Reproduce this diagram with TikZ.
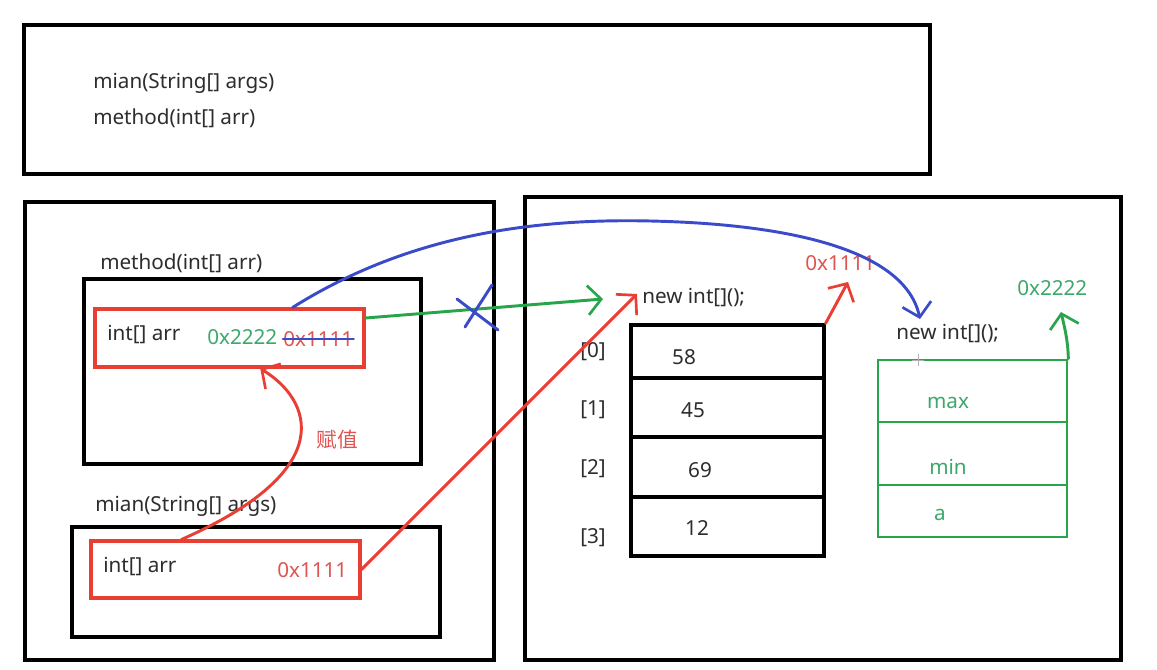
\documentclass[tikz,border=0pt]{standalone}
\usepackage{fontspec}
\setmainfont{Noto Sans}
\newfontfamily\cjk{Noto Sans CJK SC}
\usetikzlibrary{arrows.meta,fit,calc}
\definecolor{lred}{RGB}{232,62,52}
\definecolor{tred}{RGB}{224,84,80}
\definecolor{lgreen}{RGB}{40,165,75}
\definecolor{tgreen}{RGB}{60,168,106}
\definecolor{lblue}{RGB}{58,74,200}
\definecolor{tgray}{RGB}{45,45,45}
\tikzset{
  box/.style={draw=black, line width=2.3pt, inner sep=0pt},
  redbox/.style={draw=lred, line width=2.3pt, inner sep=0pt},
  grnbox/.style={draw=lgreen, line width=2pt, inner sep=0pt},
  txt/.style={font=\fontsize{15.5pt}{18pt}\selectfont, text=tgray, inner sep=0pt},
  rtxt/.style={txt, text=tred},
  gtxt/.style={txt, text=tgreen},
  barb/.style={-{Straight Barb[length=10pt,width=22pt,line width=2pt]}},
  redline/.style={draw=lred, line width=2.2pt, line cap=round},
  grnline/.style={draw=lgreen, line width=2.2pt, line cap=round},
  bluline/.style={draw=lblue, line width=2.2pt, line cap=round},
}
\begin{document}
\begin{tikzpicture}[x=0.75pt,y=-0.75pt]
\useasboundingbox (0,0) rectangle (1157,670);
\fill[white] (0,0) rectangle (1157,670);

% top frame
\node[box, fit={(24,25)(930,174)}] (top) {};
\node[txt, anchor=west] (t1) at (93,83) {mian(String[] args)};
\node[txt, anchor=west] (t2) at (93,118) {method(int[] arr)};

% stack and heap
\node[box, fit={(25,202)(494,660)}] (stack) {};
\node[box, fit={(525,197)(1121,660)}] (heap) {};

% method frame
\node[txt, anchor=west] (mlabel) at (100,263) {method(int[] arr)};
\node[box, fit={(84,279)(421,464)}] (mframe) {};
\node[redbox, fit={(95,309)(364,367)}] (marr) {};
\node[txt, anchor=west] (mtxt) at (107,335) {int[] arr};
\node[gtxt, anchor=west] (m2222) at (207,337) {0x2222};
\node[rtxt, anchor=west] (m1111) at (283,339) {0x1111};
\draw[bluline] (m1111.west) -- (m1111.east);
\node[rtxt] (fz) at (337,440) {\cjk 赋值};

% main frame
\node[txt, anchor=west] (mainlabel) at (95,506) {mian(String[] args)};
\node[box, fit={(72,527)(440,637)}] (mainframe) {};
\node[redbox, fit={(91,541)(360,598)}] (mainarr) {};
\node[txt, anchor=west] (maintxt) at (103,567) {int[] arr};
\node[rtxt, anchor=west] (main1111) at (277,570) {0x1111};

% array
\node[txt, anchor=west] (new1) at (642,298) {new int[]();};
\node[box, fit={(631,325)(824,378)}] (a0) {};
\node[box, fit={(631,378)(824,437)}] (a1) {};
\node[box, fit={(631,437)(824,497)}] (a2) {};
\node[box, fit={(631,497)(824,556)}] (a3) {};
\node[txt] (v0) at (684,357) {58};
\node[txt] (v1) at (693,410) {45};
\node[txt] (v2) at (700,470) {69};
\node[txt] (v3) at (697,528) {12};
\node[txt] (i0) at (593,352) {[0]};
\node[txt] (i1) at (593,410) {[1]};
\node[txt] (i2) at (593,469) {[2]};
\node[txt] (i3) at (593,538) {[3]};
\node[rtxt, anchor=west] (addr1) at (805,263) {0x1111};

% object
\node[txt, anchor=west] (new2) at (896,334) {new int[]();};
\node[grnbox, fit={(878,360)(1067,422)}] (o0) {};
\node[grnbox, fit={(878,422)(1067,485)}] (o1) {};
\node[grnbox, fit={(878,485)(1067,537)}] (o2) {};
\node[gtxt] (omax) at (948,403) {max};
\node[gtxt] (omin) at (948,467) {min};
\node[gtxt] (oa) at (940,515) {a};
\node[gtxt, anchor=west] (addr2) at (1017,288) {0x2222};
\draw[gray!60, line width=0.6pt] (912,360) -- (924,360) (918,354) -- (918,366);

% connector end points
\coordinate (gtip) at (603,299);
\coordinate (rtip) at (637,294);
\coordinate (btip) at (920,319);
\coordinate (r2tip) at (848,282);
\coordinate (g2tip) at (1061,312);

% arrows
\draw[grnline, barb] ([yshift=15pt]marr.east) -- (gtip);
\draw[redline, barb] (mainarr.east) -- (rtip);
\draw[redline, barb] ($(mainarr.north west)!0.338!(mainarr.north east)$)
   .. controls (340,470) and (312,400) .. ($(marr.south west)!0.613!(marr.south east)$);
\draw[bluline, barb] ($(marr.north west)!0.732!(marr.north east)$)
   .. controls (400,240) and (520,218) .. (650,221)
   .. controls (790,224) and (905,250) .. (btip);
\draw[redline, barb] (a0.north east) -- (r2tip);
\draw[grnline, barb] (o0.north east) .. controls (1068,340) and (1064,325) .. (g2tip);

% cross mark on the old reference
\draw[bluline] (465,327) -- (492,285);
\draw[bluline] (457,299) -- (498,330);
\end{tikzpicture}
\end{document}
